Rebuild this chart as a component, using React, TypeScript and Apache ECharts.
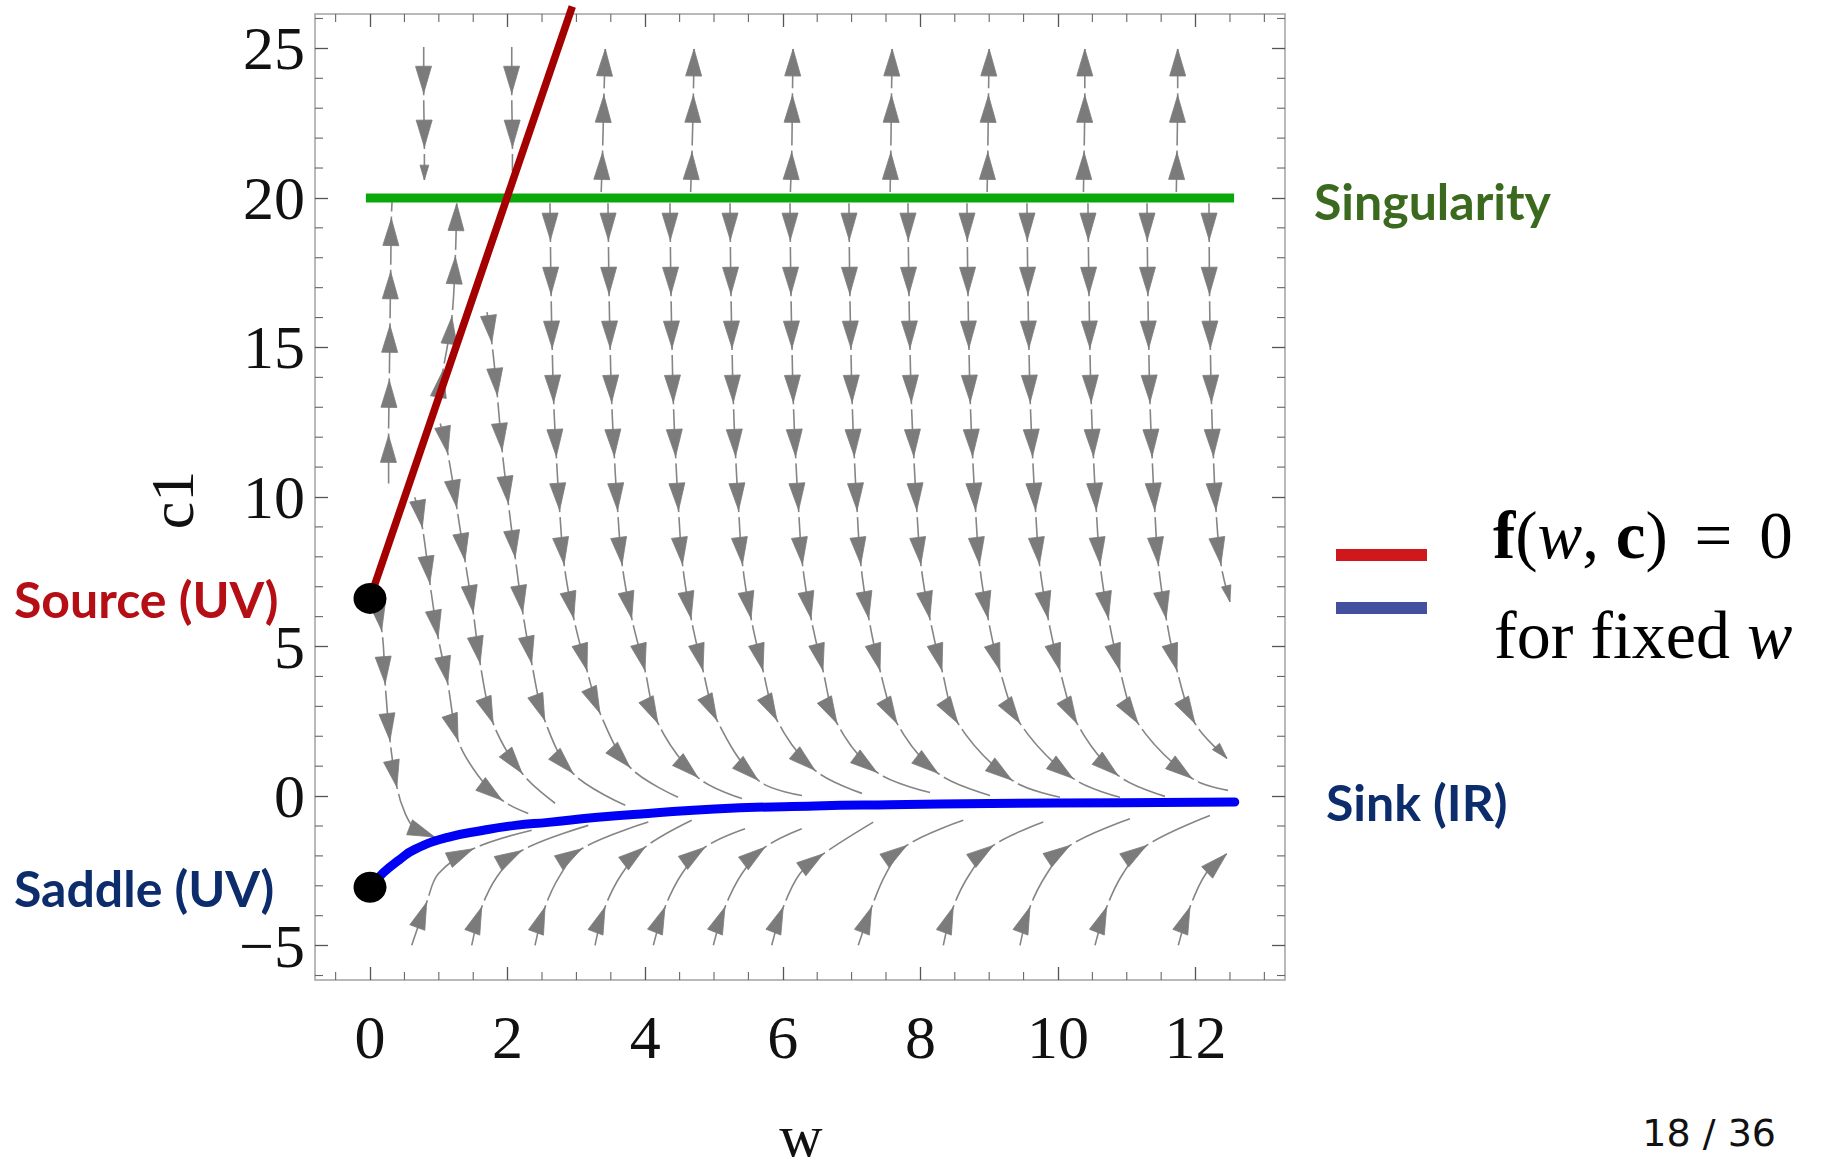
import React, { useEffect, useRef } from "react";
import * as echarts from "echarts";

// ---------- axes ----------
const X_MIN = -0.8;
const X_MAX = 13.3;
const Y_MIN = -6.15;
const Y_MAX = 26.15;
const xMajorTicks = [0, 2, 4, 6, 8, 10, 12];
const xMinorTicks = [-0.5, 0.5, 1, 1.5, 2.5, 3, 3.5, 4.5, 5, 5.5, 6.5, 7, 7.5, 8.5, 9, 9.5, 10.5, 11, 11.5, 12.5, 13];
const yMajorTicks = [-5, 0, 5, 10, 15, 20, 25];
const yMinorTicks = [-6, -4, -3, -2, -1, 1, 2, 3, 4, 6, 7, 8, 9, 11, 12, 13, 14, 16, 17, 18, 19, 21, 22, 23, 24, 26];

// ---------- special curves ----------
const singularityLine = [[-0.06, 20], [12.56, 20]];
const sourceLine = [[0, 6.61], [2.94, 26.4]];
const sinkCurve = [
  [0, -3.05], [0.2, -2.55], [0.42, -2.14], [0.65, -1.78], [1.13, -1.38], [1.63, -1.15],
  [2.11, -0.98], [2.59, -0.88], [3.31, -0.71], [4.04, -0.58], [5.01, -0.43], [6.47, -0.33],
  [7.56, -0.29], [9.01, -0.25], [10.94, -0.22], [12.57, -0.2],
];
const fixedPoints = [[0, 6.61], [0, -3.05]];

// ---------- stream lines: [w, c1, arrowhead size] ----------
const upperUpLines = [
  [[3.36, 20.2, 0], [3.38, 21.52, 1], [3.4, 23.43, 1], [3.42, 24.98, 1]],
  [[4.66, 20.2, 0], [4.68, 21.52, 1], [4.7, 23.43, 1], [4.71, 24.98, 1]],
  [[6.11, 20.2, 0], [6.13, 21.52, 1], [6.14, 23.43, 1], [6.15, 24.98, 1]],
  [[7.56, 20.2, 0], [7.57, 21.52, 1], [7.58, 23.43, 1], [7.59, 24.98, 1]],
  [[8.97, 20.2, 0], [8.98, 21.52, 1], [8.99, 23.43, 1], [9.0, 24.98, 1]],
  [[10.37, 20.2, 0], [10.38, 21.52, 1], [10.39, 23.43, 1], [10.39, 24.98, 1]],
  [[11.72, 20.2, 0], [11.73, 21.52, 1], [11.74, 23.43, 1], [11.74, 24.98, 1]],
];
const upperDownLines = [
  [[0.78, 25.05, 0], [0.78, 23.5, 1], [0.79, 21.7, 1], [0.79, 20.6, 0.55]],
  [[2.06, 25.05, 0], [2.06, 23.5, 1], [2.07, 21.7, 1], [2.07, 20.9, 0]],
];
const midUpLines = [
  [[0.27, 10.45, 0], [0.27, 12.06, 1], [0.28, 13.9, 1], [0.29, 15.74, 1], [0.3, 17.53, 1], [0.31, 19.31, 1], [0.32, 19.87, 0]],
  [[0.99, 13.34, 0], [1.06, 14.23, 1], [1.19, 16.02, 1], [1.24, 18.03, 1], [1.26, 19.81, 1]],
];
const midDownLines = [
  [[0.03, 6.48, 0], [0.17, 5.54, 1], [0.22, 3.76, 1], [0.29, 1.86, 1], [0.39, 0.3, 1], [0.51, -0.58, 0], [0.66, -1.12, 0], [0.94, -1.37, 1]],
  [[0.65, 9.99, 0], [0.76, 8.99, 1], [0.87, 7.12, 1], [0.99, 5.31, 1], [1.13, 3.77, 1], [1.28, 1.86, 1], [1.57, 0.69, 0], [1.92, -0.14, 1], [2.3, -0.58, 0]],
  [[1.02, 12.46, 0], [1.13, 11.46, 1], [1.26, 9.66, 1], [1.38, 7.88, 1], [1.5, 6.14, 1], [1.6, 4.44, 1], [1.79, 2.43, 1], [2.21, 0.76, 1], [2.69, -0.24, 0]],
  [[1.7, 16.18, 0], [1.77, 15.17, 1], [1.85, 13.4, 1], [1.92, 11.56, 1], [2.01, 9.79, 1], [2.11, 7.98, 1], [2.22, 6.14, 1], [2.35, 4.44, 1], [2.54, 2.53, 1], [2.95, 0.76, 1], [3.71, -0.31, 0]],
];
const columnDownLines = [
  [[2.616, 19.82, 0], [2.622, 18.59, 1], [2.632, 16.78, 1], [2.648, 14.98, 1], [2.67, 13.17, 1], [2.708, 11.36, 1], [2.756, 9.56, 1], [2.821, 7.75, 1], [2.961, 5.94, 1], [3.154, 4.2, 1], [3.343, 2.77, 1], [3.779, 0.96, 1], [4.477, -0.04, 0]],
  [[3.459, 19.82, 0], [3.465, 18.59, 1], [3.475, 16.78, 1], [3.491, 14.98, 1], [3.513, 13.17, 1], [3.551, 11.36, 1], [3.599, 9.56, 1], [3.664, 7.75, 1], [3.804, 5.94, 1], [3.997, 4.2, 1], [4.186, 2.43, 1], [4.767, 0.62, 1], [5.407, -0.08, 0]],
  [[4.36, 19.82, 0], [4.365, 18.59, 1], [4.375, 16.78, 1], [4.39, 14.98, 1], [4.409, 13.17, 1], [4.442, 11.36, 1], [4.485, 9.56, 1], [4.542, 7.75, 1], [4.667, 5.94, 1], [4.84, 4.2, 1], [5.044, 2.53, 1], [5.64, 0.53, 1], [6.279, 0.02, 0]],
  [[5.233, 19.82, 0], [5.237, 18.59, 1], [5.247, 16.78, 1], [5.262, 14.98, 1], [5.281, 13.17, 1], [5.314, 11.36, 1], [5.358, 9.56, 1], [5.414, 7.75, 1], [5.539, 5.94, 1], [5.712, 4.2, 1], [5.916, 2.53, 1], [6.468, 0.86, 1], [7.151, 0.09, 0]],
  [[6.105, 19.82, 0], [6.109, 18.59, 1], [6.119, 16.78, 1], [6.134, 14.98, 1], [6.153, 13.17, 1], [6.186, 11.36, 1], [6.23, 9.56, 1], [6.286, 7.75, 1], [6.411, 5.94, 1], [6.584, 4.2, 1], [6.788, 2.43, 1], [7.369, 0.79, 1], [8.14, 0.12, 0]],
  [[6.962, 19.82, 0], [6.966, 18.59, 1], [6.975, 16.78, 1], [6.99, 14.98, 1], [7.008, 13.17, 1], [7.039, 11.36, 1], [7.08, 9.56, 1], [7.134, 7.75, 1], [7.25, 5.94, 1], [7.413, 4.2, 1], [7.66, 2.43, 1], [8.256, 0.76, 1], [9.012, 0.02, 0]],
  [[7.82, 19.82, 0], [7.824, 18.59, 1], [7.834, 16.78, 1], [7.849, 14.98, 1], [7.869, 13.17, 1], [7.904, 11.36, 1], [7.948, 9.56, 1], [8.007, 7.75, 1], [8.137, 5.94, 1], [8.314, 4.2, 1], [8.547, 2.43, 1], [9.331, 0.53, 1], [10.029, -0.04, 0]],
  [[8.677, 19.82, 0], [8.682, 18.59, 1], [8.692, 16.78, 1], [8.706, 14.98, 1], [8.725, 13.17, 1], [8.759, 11.36, 1], [8.802, 9.56, 1], [8.859, 7.75, 1], [8.984, 5.94, 1], [9.157, 4.2, 1], [9.448, 2.43, 1], [10.218, 0.59, 1], [10.901, -0.04, 0]],
  [[9.549, 19.82, 0], [9.554, 18.59, 1], [9.564, 16.78, 1], [9.578, 14.98, 1], [9.597, 13.17, 1], [9.631, 11.36, 1], [9.674, 9.56, 1], [9.731, 7.75, 1], [9.856, 5.94, 1], [10.029, 4.2, 1], [10.276, 2.43, 1], [10.872, 0.69, 1], [11.555, -0.01, 0]],
  [[10.436, 19.82, 0], [10.441, 18.59, 1], [10.451, 16.78, 1], [10.464, 14.98, 1], [10.483, 13.17, 1], [10.515, 11.36, 1], [10.557, 9.56, 1], [10.613, 7.75, 1], [10.734, 5.94, 1], [10.901, 4.2, 1], [11.163, 2.43, 1], [11.948, 0.59, 1], [12.471, 0.19, 0]],
  [[11.294, 19.82, 0], [11.298, 18.59, 1], [11.307, 16.78, 1], [11.32, 14.98, 1], [11.337, 13.17, 1], [11.368, 11.36, 1], [11.407, 9.56, 1], [11.459, 7.75, 1], [11.573, 5.94, 1], [11.73, 4.2, 1], [11.991, 2.43, 1], [12.456, 1.26, 0.6]],
  [[12.195, 19.82, 0], [12.198, 18.59, 1], [12.203, 16.78, 1], [12.215, 14.98, 1], [12.231, 13.17, 1], [12.259, 11.36, 1], [12.297, 9.56, 1], [12.369, 7.75, 1], [12.5, 6.5, 0.6]],
];
const bottomUpLines = [
  [[0.606, -4.99, 0], [0.824, -3.55, 1], [0.993, -2.6, 0], [1.501, -1.76, 1], [2.35, -1.14, 0]],
  [[1.478, -4.99, 0], [1.624, -3.71, 1], [1.86, -2.65, 0], [2.205, -1.82, 1], [3.173, -0.98, 0]],
  [[2.398, -4.99, 0], [2.544, -3.71, 1], [2.762, -2.65, 0], [3.077, -1.76, 1], [4.045, -0.87, 0]],
  [[3.27, -4.99, 0], [3.416, -3.71, 1], [3.663, -2.59, 0], [3.997, -1.71, 1], [4.676, -0.81, 0]],
  [[4.118, -4.99, 0], [4.288, -3.71, 1], [4.535, -2.59, 0], [4.869, -1.71, 1], [5.451, -1.09, 0]],
  [[4.99, -4.99, 0], [5.16, -3.71, 1], [5.407, -2.59, 0], [5.741, -1.71, 1], [6.275, -1.09, 0]],
  [[5.839, -4.99, 0], [6.007, -3.71, 1], [6.25, -2.59, 0], [6.589, -1.93, 1], [7.315, -0.87, 0]],
  [[7.097, -4.99, 0], [7.292, -3.71, 1], [7.5, -2.59, 0], [7.801, -1.65, 1], [8.624, -0.81, 0]],
  [[8.333, -4.99, 0], [8.478, -3.71, 1], [8.721, -2.59, 0], [9.06, -1.65, 1], [9.786, -0.87, 0]],
  [[9.448, -4.99, 0], [9.593, -3.71, 1], [9.84, -2.59, 0], [10.174, -1.65, 1], [11.047, -0.76, 0]],
  [[10.538, -4.99, 0], [10.708, -3.71, 1], [10.945, -2.59, 0], [11.289, -1.65, 1], [12.209, -0.65, 0]],
  [[11.749, -4.99, 0], [11.919, -3.71, 1], [12.151, -2.59, 0], [12.452, -1.93, 1]],
];

const SERIF = '"Liberation Serif", "Times New Roman", serif';
const SANS_BOLD = 'Lato, "Open Sans", sans-serif';

function fmtTick(v: number) {
  return v < 0 ? "\u2212" + Math.abs(v) : String(v);
}

export default function App() {
  const ref = useRef<HTMLDivElement>(null);

  useEffect(() => {
    if (!ref.current) return;
    const chart = echarts.init(ref.current, undefined, { renderer: "svg" });

    const allStreams = [
      ...upperUpLines,
      ...upperDownLines,
      ...midUpLines,
      ...midDownLines,
      ...columnDownLines,
      ...bottomUpLines,
    ];

    const arrowData: number[][] = [];
    allStreams.forEach((pts) => {
      pts.forEach((p, i) => {
        if (!p[2]) return;
        const prev = pts[Math.max(0, i - 1)];
        const next = pts[Math.min(pts.length - 1, i + 1)];
        arrowData.push([p[0], p[1], prev[0], prev[1], next[0], next[1], p[2]]);
      });
    });

    const streamSeries = allStreams.map((pts) => ({
      type: "line",
      data: pts.map((p) => [p[0], p[1]]),
      smooth: 0.35,
      showSymbol: false,
      symbol: "none",
      silent: true,
      z: 2,
      lineStyle: { color: "#858585", width: 1.6 },
    }));

    const minorData = [
      ...xMinorTicks.map((v) => [v, 0]),
      ...yMinorTicks.map((v) => [v, 1]),
    ];

    const tickStyle = { color: "#555", width: 1.3 };
    const labelStyle = {
      fontFamily: SERIF,
      fontSize: 62,
      lineHeight: 62,
      color: "#111",
    };

    const option: any = {
      animation: false,
      backgroundColor: "#ffffff",
      grid: {
        left: 315,
        top: 14,
        width: 970,
        height: 966,
        show: true,
        borderColor: "#a3a3a3",
        borderWidth: 1.5,
        backgroundColor: "transparent",
      },
      xAxis: [
        {
          type: "value",
          min: X_MIN,
          max: X_MAX,
          position: "bottom",
          splitLine: { show: false },
          axisLine: { show: false, onZero: false },
          axisTick: { show: true, inside: true, length: 13, customValues: xMajorTicks, lineStyle: tickStyle },
          axisLabel: { show: true, customValues: xMajorTicks, formatter: fmtTick, margin: 26, ...labelStyle },
        },
        {
          type: "value",
          min: X_MIN,
          max: X_MAX,
          position: "top",
          splitLine: { show: false },
          axisLine: { show: false, onZero: false },
          axisTick: { show: true, inside: true, length: 13, customValues: xMajorTicks, lineStyle: tickStyle },
          axisLabel: { show: false },
        },
      ],
      yAxis: [
        {
          type: "value",
          min: Y_MIN,
          max: Y_MAX,
          position: "left",
          splitLine: { show: false },
          axisLine: { show: false, onZero: false },
          axisTick: { show: true, inside: true, length: 13, customValues: yMajorTicks, lineStyle: tickStyle },
          axisLabel: { show: true, customValues: yMajorTicks, formatter: fmtTick, margin: 10, padding: [12, 0, 0, 0], ...labelStyle },
        },
        {
          type: "value",
          min: Y_MIN,
          max: Y_MAX,
          position: "right",
          splitLine: { show: false },
          axisLine: { show: false, onZero: false },
          axisTick: { show: true, inside: true, length: 13, customValues: yMajorTicks, lineStyle: tickStyle },
          axisLabel: { show: false },
        },
      ],
      series: [
        {
          type: "custom",
          name: "minor ticks",
          silent: true,
          z: 1,
          data: minorData,
          renderItem: (params: any, api: any) => {
            const v = api.value(0);
            const kind = api.value(1);
            const st = { stroke: "#666", lineWidth: 1.1 };
            if (kind === 0) {
              const b = api.coord([v, Y_MIN]);
              const t = api.coord([v, Y_MAX]);
              return {
                type: "group",
                children: [
                  { type: "line", shape: { x1: b[0], y1: b[1], x2: b[0], y2: b[1] - 8 }, style: st },
                  { type: "line", shape: { x1: t[0], y1: t[1], x2: t[0], y2: t[1] + 8 }, style: st },
                ],
              };
            }
            const l = api.coord([X_MIN, v]);
            const r = api.coord([X_MAX, v]);
            return {
              type: "group",
              children: [
                { type: "line", shape: { x1: l[0], y1: l[1], x2: l[0] + 8, y2: l[1] }, style: st },
                { type: "line", shape: { x1: r[0], y1: r[1], x2: r[0] - 8, y2: r[1] }, style: st },
              ],
            };
          },
        },
        ...streamSeries,
        {
          type: "custom",
          name: "arrows",
          silent: true,
          z: 3,
          data: arrowData,
          renderItem: (params: any, api: any) => {
            const p = api.coord([api.value(0), api.value(1)]);
            const a = api.coord([api.value(2), api.value(3)]);
            const b = api.coord([api.value(4), api.value(5)]);
            const s = api.value(6);
            let dx = b[0] - a[0];
            let dy = b[1] - a[1];
            const len = Math.hypot(dx, dy) || 1;
            dx /= len;
            dy /= len;
            const L = 27 * s;
            const H = 8 * s;
            const bx = p[0] - dx * L;
            const by = p[1] - dy * L;
            const px = -dy;
            const py = dx;
            return {
              type: "group",
              children: [
                {
                  type: "line",
                  shape: { x1: p[0] + dx * 2, y1: p[1] + dy * 2, x2: p[0] + dx * 7, y2: p[1] + dy * 7 },
                  style: { stroke: "#ffffff", lineWidth: 3 },
                },
                {
                  type: "polygon",
                  shape: { points: [[p[0], p[1]], [bx + px * H, by + py * H], [bx - px * H, by - py * H]] },
                  style: { fill: "#7b7b7b", stroke: "#7b7b7b", lineWidth: 0.8, lineJoin: "round" },
                },
              ],
            };
          },
        },
        {
          type: "line",
          name: "Singularity",
          data: singularityLine,
          showSymbol: false,
          symbol: "none",
          silent: true,
          z: 5,
          lineStyle: { color: "#0aa80a", width: 9 },
        },
        {
          type: "line",
          name: "Source branch",
          data: sourceLine,
          showSymbol: false,
          symbol: "none",
          silent: true,
          clip: false,
          z: 6,
          lineStyle: { color: "#a40000", width: 7.5 },
        },
        {
          type: "line",
          name: "Sink branch",
          data: sinkCurve,
          smooth: 0.5,
          showSymbol: false,
          symbol: "none",
          silent: true,
          z: 6,
          lineStyle: { color: "#0000f5", width: 9, cap: "round" },
        },
        {
          type: "scatter",
          name: "Fixed points",
          data: fixedPoints,
          symbol: "circle",
          symbolSize: [33, 31],
          silent: true,
          z: 7,
          itemStyle: { color: "#000000", opacity: 1 },
        },
      ],
      graphic: [
        { type: "text", x: 172, y: 500, rotation: Math.PI / 2, style: { text: "c1", fontFamily: SERIF, fontSize: 62, fill: "#111", align: "center", verticalAlign: "middle" } },
        { type: "text", x: 801, y: 1164, style: { text: "w", fontFamily: SERIF, fontSize: 60, lineHeight: 56, fill: "#111", align: "center", verticalAlign: "bottom" } },
        { type: "text", x: 1314, y: 201, style: { text: "Singularity", fontFamily: SANS_BOLD, fontWeight: "bold", fontSize: 50, fill: "#3b6a1f", align: "left", verticalAlign: "middle" } },
        { type: "text", x: 1326, y: 802, style: { text: "Sink (IR)", fontFamily: SANS_BOLD, fontWeight: "bold", fontSize: 50, fill: "#0c2c6c", align: "left", verticalAlign: "middle" } },
        { type: "text", x: 14, y: 599, style: { text: "Source (UV)", fontFamily: SANS_BOLD, fontWeight: "bold", fontSize: 50, fill: "#b50e14", align: "left", verticalAlign: "middle" } },
        { type: "text", x: 14, y: 888, style: { text: "Saddle (UV)", fontFamily: SANS_BOLD, fontWeight: "bold", fontSize: 50, fill: "#0c2c6c", align: "left", verticalAlign: "middle" } },
        { type: "rect", shape: { x: 1336, y: 549, width: 91, height: 12 }, style: { fill: "#d0181c" } },
        { type: "rect", shape: { x: 1336, y: 602, width: 91, height: 12 }, style: { fill: "#4350a0" } },
        {
          type: "text",
          x: 1493,
          y: 535,
          style: {
            text: "{b|f}{r|(}{i|w}{r|, }{b|c}{r|) }{e|=}{r| 0}",
            fill: "#000",
            align: "left",
            verticalAlign: "middle",
            rich: {
              b: { fontFamily: SERIF, fontSize: 67, fontWeight: "bold", fill: "#000" },
              r: { fontFamily: SERIF, fontSize: 67, fill: "#000" },
              i: { fontFamily: SERIF, fontSize: 67, fontStyle: "italic", fill: "#000" },
              e: { fontFamily: SERIF, fontSize: 67, fill: "#000", padding: [0, 10, 0, 10] },
            },
          },
        },
        {
          type: "text",
          x: 1494,
          y: 635,
          style: {
            text: "{r|for fixed }{i|w}",
            fill: "#000",
            align: "left",
            verticalAlign: "middle",
            rich: {
              r: { fontFamily: SERIF, fontSize: 68, fill: "#000" },
              i: { fontFamily: SERIF, fontSize: 68, fontStyle: "italic", fill: "#000" },
            },
          },
        },
        { type: "text", x: 1776, y: 1133, style: { text: "18 / 36", fontFamily: '"DejaVu Sans", sans-serif', fontSize: 38, fill: "#111", align: "right", verticalAlign: "middle" } },
      ],
    };

    chart.setOption(option);
    return () => chart.dispose();
  }, []);

  return <div ref={ref} style={{ position: "absolute", left: 0, top: 0, width: 1832, height: 1168, background: "#fff" }} />;
}
